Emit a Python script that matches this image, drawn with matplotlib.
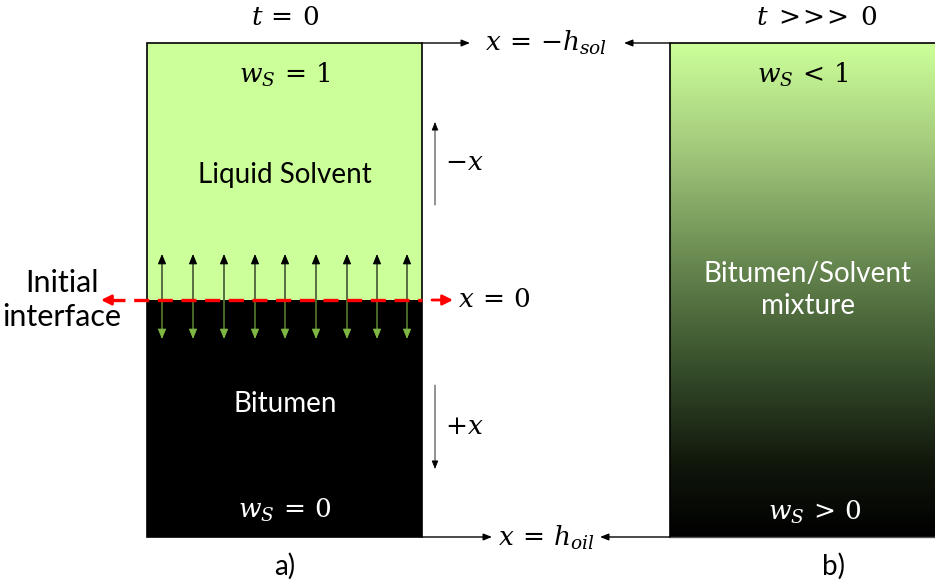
import numpy as np
import matplotlib
matplotlib.use("Agg")
import matplotlib.pyplot as plt
from matplotlib.colors import LinearSegmentedColormap
from matplotlib.patches import Rectangle

plt.rcParams['mathtext.fontset'] = 'dejavuserif'
TXT = 'Lato'

# ---- diagram content ----
arrow_x = [162, 193, 224, 255, 285, 316, 347, 377, 407]
interface_y = 300
box_top, box_bottom = 43, 537
left_box = (147, 422)
right_box = (670, 940)
green = '#ccff99'
grad_stops = [0.0, 0.2, 0.45, 0.65, 0.85, 1.0]
grad_colors = ['#ccff99', '#a5cc7d', '#66864f', '#38502c', '#11180c', '#000000']

fig = plt.figure(figsize=(9.35, 5.84), dpi=100)
ax = fig.add_axes([0, 0, 1, 1])
ax.set_xlim(0, 935)
ax.set_ylim(584, 0)
ax.axis('off')

# left box
ax.add_patch(Rectangle((left_box[0], box_top), left_box[1]-left_box[0], interface_y-box_top,
                       facecolor=green, edgecolor='none', zorder=1))
ax.add_patch(Rectangle((left_box[0], interface_y), left_box[1]-left_box[0], box_bottom-interface_y,
                       facecolor='black', edgecolor='none', zorder=1))
ax.add_patch(Rectangle((left_box[0], box_top), left_box[1]-left_box[0], box_bottom-box_top,
                       facecolor='none', edgecolor='black', lw=1.2, zorder=3))

# right box gradient
cmap = LinearSegmentedColormap.from_list('g', list(zip(grad_stops, grad_colors)))
grad = np.linspace(0, 1, 256).reshape(-1, 1)
ax.imshow(grad, cmap=cmap, aspect='auto', extent=[right_box[0], right_box[1], box_bottom, box_top], zorder=1)
ax.plot([right_box[0], right_box[0], 935], [box_bottom, box_top, box_top], color='black', lw=1.2, zorder=3)
ax.plot([right_box[0], 935], [box_bottom, box_bottom], color='#555555', lw=1.0, zorder=3)
ax.set_xlim(0, 935)
ax.set_ylim(584, 0)

# diffusion arrows
for x in arrow_x:
    ax.annotate('', xy=(x, 254), xytext=(x, interface_y),
                arrowprops=dict(arrowstyle='-|>,head_width=0.25,head_length=0.6', color='black', lw=0.8,
                                shrinkA=0, shrinkB=0), zorder=4)
    ax.annotate('', xy=(x, 339), xytext=(x, interface_y),
                arrowprops=dict(arrowstyle='-|>,head_width=0.25,head_length=0.6', color='#7fb843', lw=0.8,
                                shrinkA=0, shrinkB=0), zorder=4)

# red dashed interface
ax.plot([110, 422], [interface_y, interface_y], color='red', lw=2.4, dashes=(4.5, 2.6), zorder=5)
ax.annotate('', xy=(101, interface_y), xytext=(112, interface_y),
            arrowprops=dict(arrowstyle='-|>,head_width=0.3,head_length=0.6', color='red', lw=2,
                            shrinkA=0, shrinkB=0), zorder=5)
ax.annotate('', xy=(453, interface_y), xytext=(432, interface_y),
            arrowprops=dict(arrowstyle='-|>,head_width=0.3,head_length=0.6', color='red', lw=2,
                            shrinkA=0, shrinkB=0), zorder=5)

# boundary arrows
bp = dict(arrowstyle='-|>,head_width=0.2,head_length=0.5', color='black', lw=1.0, shrinkA=0, shrinkB=0)
ax.annotate('', xy=(470, box_top), xytext=(left_box[1], box_top), arrowprops=bp)
ax.annotate('', xy=(624, box_top), xytext=(right_box[0], box_top), arrowprops=bp)
ax.annotate('', xy=(492, box_bottom), xytext=(left_box[1], box_bottom), arrowprops=bp)
ax.annotate('', xy=(600, box_bottom), xytext=(right_box[0], box_bottom), arrowprops=bp)

# direction arrows
gp = dict(arrowstyle='-|>,head_width=0.2,head_length=0.5', color='black', lw=0.6, shrinkA=0, shrinkB=0)
ax.annotate('', xy=(435, 122), xytext=(435, 205), arrowprops=gp)
ax.annotate('', xy=(435, 469), xytext=(435, 385), arrowprops=gp)

# math labels
ms = 19
ax.text(285, 18, r'$t\,=\,0$', fontsize=ms, ha='center', va='center')
ax.text(817, 18, r'$t\;{>}\!\!{>}\!\!{>}\;0$', fontsize=ms, ha='center', va='center')
ax.text(285, 75, r'$w_S\,=\,1$', fontsize=ms, ha='center', va='center')
ax.text(285, 510, r'$w_S\,=\,0$', fontsize=ms, ha='center', va='center', color='white')
ax.text(803, 75, r'$w_S\,<\,1$', fontsize=ms, ha='center', va='center')
ax.text(815, 512, r'$w_S\,>\,0$', fontsize=ms, ha='center', va='center', color='white')
ax.text(546, 43, r'$x\,=\,{-}h_{sol}$', fontsize=ms, ha='center', va='center')
ax.text(546, 538, r'$x\,=\,h_{oil}$', fontsize=ms, ha='center', va='center')
ax.text(494, 300, r'$x\,=\,0$', fontsize=ms, ha='center', va='center')
ax.text(445, 163, r'${-}x$', fontsize=ms, ha='left', va='center')
ax.text(445, 427, r'${+}x$', fontsize=ms, ha='left', va='center')

# text labels
ts = 20
ax.text(285, 175, 'Liquid Solvent', fontsize=ts, ha='center', va='center', family=TXT)
ax.text(285, 404, 'Bitumen', fontsize=ts, ha='center', va='center', family=TXT, color='white')
ax.text(808, 290, 'Bitumen/Solvent\nmixture', fontsize=ts, ha='center', va='center', family=TXT,
        color='white', linespacing=1.25)
ax.text(62, 300, 'Initial\ninterface', fontsize=22, ha='center', va='center', family=TXT, linespacing=1.25)
ax.text(285, 566, 'a)', fontsize=ts, ha='center', va='center', family=TXT)
ax.text(833, 566, 'b)', fontsize=ts, ha='center', va='center', family=TXT)

fig.savefig('out.png', dpi=100)
